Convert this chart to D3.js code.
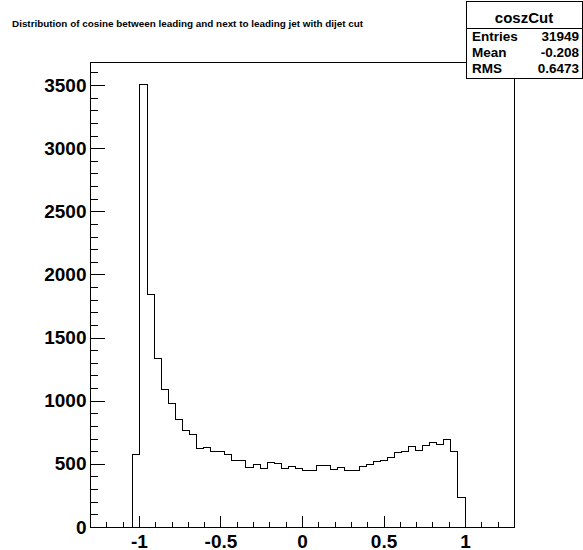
<!DOCTYPE html>
<html>
<head>
<meta charset="utf-8">
<script src="https://cdn.jsdelivr.net/npm/d3@7"></script>
<style>
  html, body { margin: 0; padding: 0; background: #fff; }
  svg { display: block; }
  text { font-family: "Liberation Sans", Arial, Helvetica, sans-serif; font-weight: bold; fill: #000; }
</style>
</head>
<body>
<svg id="chart" width="583" height="550"></svg>
<script>
// ---- data ----
const histName = "coszCut";
const titleText = "Distribution of cosine between leading and next to leading jet with dijet cut";
const xRange = [-1.3, 1.3];
const nBins = 60;
const firstFilledBin = 6;
const binCounts = [580, 3508, 1847, 1335, 1090, 982, 855, 765, 736, 625, 633, 601, 598, 580,
  530, 530, 473, 499, 467, 518, 504, 468, 481, 470, 455, 455, 495, 495, 462, 475, 448, 448,
  483, 501, 521, 529, 551, 591, 599, 641, 612, 652, 670, 656, 697, 605, 240];
const statLabels = ["Entries", "Mean", "RMS"];
const statValues = ["31949", "-0.208", "0.6473"];
const xMajorTicks = [-1, -0.5, 0, 0.5, 1];
const xMinorTicks = [-1.2, -1.1, -0.9, -0.8, -0.7, -0.6, -0.4, -0.3, -0.2, -0.1, 0.1, 0.2, 0.3, 0.4, 0.6, 0.7, 0.8, 0.9, 1.1, 1.2];
const yMajorTicks = [0, 500, 1000, 1500, 2000, 2500, 3000, 3500];
const yMinorTicks = d3.range(0, 3700, 100);
const yMax = 3683;

// ---- layout ----
const svg = d3.select("#chart");
const frame = { left: 90, right: 514, top: 62, bottom: 527 };

const x = d3.scaleLinear().domain(xRange).range([frame.left, frame.right]);
const y = d3.scaleLinear().domain([0, yMax]).range([frame.bottom, frame.top]);

const binWidth = (xRange[1] - xRange[0]) / nBins;
const bins = binCounts.map((v, i) => {
  const k = firstFilledBin + i;
  return { lo: xRange[0] + k * binWidth, hi: xRange[0] + (k + 1) * binWidth, v };
});

// histogram step path
const pts = [[bins[0].lo, 0]];
bins.forEach(b => { pts.push([b.lo, b.v]); pts.push([b.hi, b.v]); });
pts.push([bins[bins.length - 1].hi, 0]);
const line = d3.line().x(d => Math.round(x(d[0])) + 0.5).y(d => Math.round(y(d[1])) + 0.5);

// axes
const gx = svg.append("g");
gx.append("g").attr("transform", `translate(0,${frame.bottom + 0.5})`)
  .call(d3.axisBottom(x).tickValues(xMinorTicks).tickSize(-6).tickFormat(""))
  .call(g => g.select(".domain").remove());
gx.append("g").attr("transform", `translate(0,${frame.bottom + 0.5})`)
  .call(d3.axisBottom(x).tickValues(xMajorTicks).tickSize(-12)
    .tickFormat(d => String(d)))
  .call(g => g.select(".domain").remove())
  .call(g => g.selectAll("text").attr("font-size", 19).attr("dy", 0).attr("y", 20)
    .attr("font-family", "Liberation Sans").attr("font-weight", "bold").attr("fill", "#000"));

const gy = svg.append("g");
gy.append("g").attr("transform", `translate(${frame.left + 0.5},0)`)
  .call(d3.axisLeft(y).tickValues(yMinorTicks).tickSize(-7).tickFormat(""))
  .call(g => g.select(".domain").remove());
gy.append("g").attr("transform", `translate(${frame.left + 0.5},0)`)
  .call(d3.axisLeft(y).tickValues(yMajorTicks).tickSize(-14).tickFormat(d3.format("d")))
  .call(g => g.select(".domain").remove())
  .call(g => g.selectAll("text").attr("font-size", 19).attr("x", -4)
    .attr("font-family", "Liberation Sans").attr("font-weight", "bold").attr("fill", "#000"));

svg.selectAll(".tick line").attr("stroke", "#000").attr("stroke-width", 1).attr("shape-rendering", "crispEdges");

// frame
svg.append("rect")
  .attr("x", frame.left + 0.5).attr("y", frame.top + 0.5)
  .attr("width", frame.right - frame.left).attr("height", frame.bottom - frame.top)
  .attr("fill", "none").attr("stroke", "#000").attr("stroke-width", 1)
  .attr("shape-rendering", "crispEdges");

// histogram
svg.append("path").attr("d", line(pts))
  .attr("fill", "none").attr("stroke", "#000").attr("stroke-width", 1)
  .attr("shape-rendering", "crispEdges");

// title
svg.append("text").attr("x", 12).attr("y", 27).attr("font-size", 9.9).text(titleText);

// stats box
const box = { x: 466, y: 1, w: 116, h: 77 };
const sb = svg.append("g");
sb.append("rect").attr("x", box.x + 0.5).attr("y", box.y + 0.5).attr("width", box.w).attr("height", box.h)
  .attr("fill", "#fff").attr("stroke", "#000").attr("stroke-width", 1).attr("shape-rendering", "crispEdges");
sb.append("line").attr("x1", box.x).attr("x2", box.x + box.w).attr("y1", box.y + 27.5).attr("y2", box.y + 27.5)
  .attr("stroke", "#000").attr("shape-rendering", "crispEdges");
sb.append("text").attr("x", box.x + box.w / 2).attr("y", 18).attr("dy", "0.35em")
  .attr("text-anchor", "middle").attr("font-size", 15).text(histName);
const rowY = [36, 52, 68];
statLabels.forEach((l, i) => {
  sb.append("text").attr("x", box.x + 6).attr("y", rowY[i]).attr("dy", "0.35em")
    .attr("font-size", 13.5).text(l);
  sb.append("text").attr("x", box.x + box.w - 3).attr("y", rowY[i]).attr("dy", "0.35em")
    .attr("text-anchor", "end").attr("font-size", 13.5).text(statValues[i]);
});
</script>
</body>
</html>
